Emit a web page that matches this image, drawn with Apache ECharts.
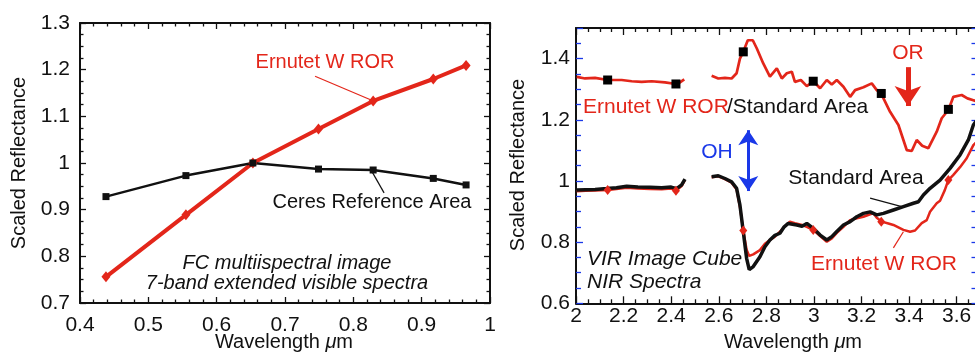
<!DOCTYPE html>
<html>
<head>
<meta charset="utf-8">
<script src="https://cdn.jsdelivr.net/npm/echarts@6/dist/echarts.min.js"></script>
<style>
  html, body { margin: 0; padding: 0; background: #fff; }
  #chart { width: 975px; height: 354px; }
</style>
</head>
<body>
<div id="chart"></div>
<script>
// ---- left panel: FC 7-band extended visible spectra ----
var fcWavelength = [0.438, 0.555, 0.653, 0.749, 0.829, 0.917, 0.965];
var fcCeresRef   = [0.928, 0.973, 1.000, 0.987, 0.985, 0.967, 0.953];
var fcErnutet    = [0.756, 0.889, 1.000, 1.073, 1.133, 1.180, 1.209];

// ---- right panel: VIR NIR spectra (null = detector gap) ----
var ratioWl  = [2.003, 2.038, 2.080, 2.133, 2.192, 2.234, 2.276, 2.318, 2.374, 2.420, 2.437, 2.455, 2.510,
                2.570, 2.598, 2.626, 2.654, 2.675, 2.689, 2.703, 2.722, 2.743, 2.760, 2.787, 2.815, 2.844,
                2.865, 2.886, 2.907, 2.920, 2.945, 2.970, 2.998, 3.026, 3.054, 3.075, 3.096, 3.124, 3.152,
                3.173, 3.208, 3.243, 3.264, 3.282, 3.320, 3.355, 3.390, 3.411, 3.432, 3.455, 3.481, 3.516,
                3.537, 3.565, 3.586, 3.621, 3.645, 3.670, 3.700];
var ratioVal = [1.340, 1.335, 1.337, 1.330, 1.330, 1.326, 1.324, 1.326, 1.322, 1.317, 1.322, 1.332, null,
                1.344, 1.335, 1.337, 1.335, 1.352, 1.400, 1.422, 1.460, 1.460, 1.433, 1.384, 1.341, 1.368,
                1.335, 1.352, 1.357, 1.324, 1.330, 1.310, 1.326, 1.303, 1.330, 1.315, 1.330, 1.308, 1.275,
                1.297, 1.306, 1.319, 1.297, 1.286, 1.226, 1.183, 1.101, 1.098, 1.134, 1.115, 1.107, 1.161,
                1.205, 1.232, 1.275, 1.281, 1.270, 1.264, 1.255];

var stdWl  = [2.003, 2.040, 2.080, 2.129, 2.170, 2.213, 2.260, 2.311, 2.360, 2.400, 2.423, 2.444, 2.458, 2.510,
              2.570, 2.598, 2.626, 2.654, 2.675, 2.689, 2.703, 2.717, 2.728, 2.745, 2.773, 2.794, 2.815,
              2.836, 2.857, 2.875, 2.892, 2.928, 2.950, 2.970, 2.997, 3.026, 3.054, 3.075, 3.096, 3.124,
              3.152, 3.180, 3.208, 3.236, 3.264, 3.292, 3.334, 3.376, 3.418, 3.439, 3.460, 3.488, 3.530,
              3.572, 3.614, 3.649, 3.670, 3.700];
var stdVal = [0.970, 0.971, 0.972, 0.975, 0.978, 0.983, 0.980, 0.979, 0.978, 0.980, 0.975, 0.987, 1.006, null,
              1.014, 1.017, 1.008, 0.997, 0.976, 0.921, 0.834, 0.747, 0.710, 0.720, 0.752, 0.785, 0.807,
              0.822, 0.829, 0.850, 0.861, 0.856, 0.852, 0.861, 0.845, 0.823, 0.807, 0.818, 0.835, 0.856,
              0.867, 0.883, 0.894, 0.899, 0.889, 0.894, 0.905, 0.916, 0.927, 0.932, 0.954, 0.976, 1.003,
              1.041, 1.085, 1.134, 1.183, 1.215];

var rorWl  = [2.003, 2.040, 2.080, 2.133, 2.170, 2.213, 2.260, 2.311, 2.360, 2.400, 2.420, 2.444, 2.458, 2.510,
              2.570, 2.598, 2.626, 2.654, 2.675, 2.689, 2.703, 2.717, 2.728, 2.745, 2.773, 2.794, 2.815,
              2.836, 2.857, 2.875, 2.899, 2.920, 2.950, 2.970, 2.997, 3.026, 3.054, 3.075, 3.096, 3.124,
              3.152, 3.180, 3.208, 3.236, 3.250, 3.264, 3.285, 3.313, 3.334, 3.376, 3.404, 3.425, 3.453,
              3.474, 3.488, 3.516, 3.530, 3.550, 3.565, 3.586, 3.614, 3.642, 3.670, 3.700];
var rorVal = [0.966, 0.968, 0.969, 0.970, 0.974, 0.978, 0.975, 0.974, 0.973, 0.975, 0.968, 0.983, 1.003, null,
              1.012, 1.015, 1.006, 0.994, 0.972, 0.915, 0.838, 0.775, 0.755, 0.760, 0.774, 0.795, 0.807,
              0.818, 0.834, 0.850, 0.867, 0.862, 0.856, 0.850, 0.840, 0.820, 0.801, 0.812, 0.830, 0.850,
              0.872, 0.878, 0.883, 0.891, 0.894, 0.880, 0.867, 0.861, 0.856, 0.840, 0.834, 0.838, 0.862,
              0.872, 0.899, 0.927, 0.935, 0.970, 1.003, 1.020, 1.045, 1.074, 1.117, 1.140];

var markerWl   = [2.133, 2.420, 2.703, 2.997, 3.283, 3.565];
var ratioMarks = [1.330, 1.317, 1.422, 1.326, 1.286, 1.234];
var rorMarks   = [0.970, 0.968, 0.838, 0.840, 0.867, 1.003];

var font = '"Liberation Sans", Arial, Helvetica, sans-serif';
var red = '#e3261a';
var blue = '#1a38e8';
var ink = '#111111';

function pairs(xs, ys) {
    return xs.map(function (x, i) { return [x, ys[i] == null ? '-' : ys[i]]; });
}

function axis(o) {
    var tc = o.tickColor || ink;
    return {
        type: 'value', gridIndex: o.grid, position: o.pos,
        min: o.min, max: o.max, interval: o.step,
        axisLine: { show: true, onZero: false, lineStyle: { color: ink, width: 2 } },
        axisTick: { show: true, inside: true, length: o.tickLen || 6, lineStyle: { color: tc, width: 1.3 } },
        minorTick: { show: true, splitNumber: o.minor, length: o.minorLen || 3.5, lineStyle: { color: tc, width: 1.3 } },
        axisLabel: o.labels ? {
            show: true, margin: o.margin, color: ink, fontSize: 21, fontFamily: font,
            showMinLabel: true, showMaxLabel: o.showMax !== false
        } : { show: false },
        splitLine: { show: false },
        minorSplitLine: { show: false }
    };
}

function txt(text, x, y, color, size, o) {
    o = o || {};
    var align = o.align || 'center';
    return {
        type: 'text', x: x, y: y, rotation: o.rotation || 0, silent: true, z: 100,
        style: {
            text: text, x: 0, y: 0, fill: color,
            font: (o.italic ? 'italic ' : '') + size + 'px ' + font,
            align: align, textAlign: align, verticalAlign: 'middle', textVerticalAlign: 'middle',
            rich: o.rich
        }
    };
}

function leader(pts, color, width, symbols, size) {
    return {
        silent: true, animation: false,
        symbol: symbols || ['none', 'none'], symbolSize: size || 10,
        label: { show: false }, emphasis: { disabled: true },
        lineStyle: { color: color, width: width || 1, type: 'solid' },
        data: [[{ coord: pts[0] }, { coord: pts[1] }]]
    };
}

var muRich = { it: { fontStyle: 'italic', fontSize: 20, fontFamily: font, fill: ink } };

var chart = echarts.init(document.getElementById('chart'), null, { renderer: 'canvas' });
chart.setOption({
    animation: false,
    backgroundColor: '#ffffff',
    grid: [
        { left: 80, top: 23, width: 410, height: 280, outerBoundsMode: 'none' },
        { left: 576, top: 28, width: 404.5, height: 275.3, outerBoundsMode: 'none' }
    ],
    xAxis: [
        axis({ grid: 0, pos: 'bottom', min: 0.4, max: 1, step: 0.1, minor: 5, labels: true, margin: 12 }),
        axis({ grid: 0, pos: 'top', min: 0.4, max: 1, step: 0.1, minor: 5 }),
        axis({ grid: 1, pos: 'bottom', min: 2, max: 3.7, step: 0.2, minor: 4, labels: true, margin: 2, showMax: false, tickLen: 7, minorLen: 4 }),
        axis({ grid: 1, pos: 'top', min: 2, max: 3.7, step: 0.2, minor: 4, tickLen: 7, minorLen: 4 })
    ],
    yAxis: [
        axis({ grid: 0, pos: 'left', min: 0.7, max: 1.3, step: 0.1, minor: 4, labels: true, margin: 10 }),
        axis({ grid: 0, pos: 'right', min: 0.7, max: 1.3, step: 0.1, minor: 4 }),
        axis({ grid: 1, pos: 'left', min: 0.6, max: 1.5, step: 0.2, minor: 4, labels: true, margin: 6, showMax: false, tickColor: blue, tickLen: 7, minorLen: 5 }),
        axis({ grid: 1, pos: 'right', min: 0.6, max: 1.5, step: 0.2, minor: 4, tickColor: blue, tickLen: 9, minorLen: 9 })
    ],
    series: [
        {
            name: 'Ernutet W ROR', type: 'line', xAxisIndex: 0, yAxisIndex: 0,
            data: pairs(fcWavelength, fcErnutet),
            symbol: 'diamond', symbolSize: [9, 11], showSymbol: true,
            itemStyle: { color: red, opacity: 1 }, lineStyle: { color: red, width: 4 },
            emphasis: { disabled: true },
            markLine: leader([[0.744, 1.186], [0.826, 1.135]], red, 1.2)
        },
        {
            name: 'Ceres Reference Area', type: 'line', xAxisIndex: 0, yAxisIndex: 0,
            data: pairs(fcWavelength, fcCeresRef),
            symbol: 'rect', symbolSize: 7, showSymbol: true,
            itemStyle: { color: ink, opacity: 1 }, lineStyle: { color: ink, width: 2.5 },
            emphasis: { disabled: true },
            markLine: leader([[0.8275, 0.981], [0.845, 0.936]], ink, 1.2)
        },
        {
            name: 'Ernutet W ROR/Standard Area', type: 'line', xAxisIndex: 2, yAxisIndex: 2,
            data: pairs(ratioWl, ratioVal), showSymbol: false, connectNulls: false,
            lineStyle: { color: red, width: 2.7 }, itemStyle: { color: red },
            emphasis: { disabled: true },
            markLine: leader([[3.395, 1.372], [3.395, 1.245]], red, 5, ['none', 'arrow'], 20)
        },
        {
            name: 'ratio markers', type: 'scatter', xAxisIndex: 2, yAxisIndex: 2,
            data: pairs(markerWl, ratioMarks), symbol: 'rect', symbolSize: 9,
            itemStyle: { color: '#000000', opacity: 1 }, emphasis: { disabled: true }, z: 4
        },
        {
            name: 'Ernutet W ROR (VIR)', type: 'line', xAxisIndex: 2, yAxisIndex: 2,
            data: pairs(rorWl, rorVal), showSymbol: false, connectNulls: false,
            lineStyle: { color: red, width: 2.5 }, itemStyle: { color: red },
            emphasis: { disabled: true },
            markLine: leader([[3.334, 0.781], [3.376, 0.834]], red, 1.2)
        },
        {
            name: 'Standard Area', type: 'line', xAxisIndex: 2, yAxisIndex: 2,
            data: pairs(stdWl, stdVal), showSymbol: false, connectNulls: false,
            lineStyle: { color: ink, width: 3.5 }, itemStyle: { color: ink },
            emphasis: { disabled: true },
            markLine: leader([[3.236, 0.944], [3.369, 0.916]], ink, 1.2)
        },
        {
            name: 'ror markers', type: 'scatter', xAxisIndex: 2, yAxisIndex: 2,
            data: pairs(markerWl, rorMarks), symbol: 'diamond', symbolSize: [8, 10],
            itemStyle: { color: red, opacity: 1 }, emphasis: { disabled: true }, z: 4,
            markLine: leader([[2.724, 1.166], [2.724, 0.967]], blue, 3, ['arrow', 'arrow'], 15)
        }
    ],
    graphic: [
        // left panel
        txt('Scaled Reflectance', 19, 163, ink, 20, { rotation: Math.PI / 2 }),
        txt('Wavelength {it|μ}m', 284, 342, ink, 20, { rich: muRich }),
        txt('Ernutet W ROR', 325, 62, red, 20),
        txt('Ceres Reference Area', 372, 202, ink, 20),
        txt('FC multiispectral image', 287, 263, ink, 20, { italic: true }),
        txt('7-band extended visible spectra', 287, 283, ink, 20, { italic: true }),
        // right panel
        txt('Scaled Reflectance', 518, 165, ink, 20, { rotation: Math.PI / 2 }),
        txt('Wavelength {it|μ}m', 793, 342, ink, 20, { rich: muRich }),
        txt('Ernutet W ROR', 583, 107, red, 21, { align: 'left' }),
        txt('/Standard Area', 727, 107, ink, 21, { align: 'left' }),
        txt('OH', 717, 152, blue, 21),
        txt('OR', 908, 53, red, 21),
        txt('Standard Area', 856, 178, ink, 21),
        txt('Ernutet W ROR', 884, 264, red, 21),
        txt('VIR Image Cube', 587, 259, ink, 21, { align: 'left', italic: true }),
        txt('NIR Spectra', 587, 282, ink, 21, { align: 'left', italic: true })
    ]
});
</script>
</body>
</html>
